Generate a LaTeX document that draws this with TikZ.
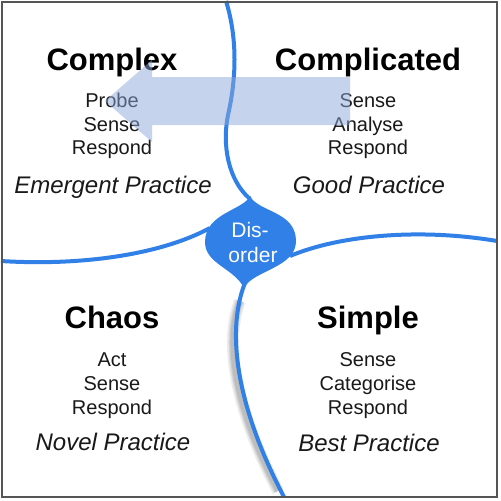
\documentclass[tikz,border=0pt]{standalone}
\usepackage{fontspec}
\setmainfont{Liberation Sans}
\definecolor{cyblue}{RGB}{48,128,232}
\definecolor{arrowblue}{RGB}{140,168,218}
\definecolor{framegray}{RGB}{85,85,85}
\begin{document}
\begin{tikzpicture}[x=1pt,y=-1pt,
  heading/.style={anchor=base,font=\fontsize{31}{36}\selectfont\bfseries,text=black,inner sep=0pt},
  sub/.style={anchor=base,font=\fontsize{20}{24}\selectfont,text=black!90,inner sep=0pt},
  practice/.style={anchor=base,font=\fontsize{24}{28}\selectfont\itshape,text=black!90,inner sep=0pt},
  dis/.style={anchor=base,font=\fontsize{21}{24}\selectfont,text=white,inner sep=0pt},
  boundary/.style={draw=cyblue,line width=4pt},
  shadowline/.style={draw=black,line width=#1,opacity=0.07}
]
\useasboundingbox (0,0) rectangle (501,501);
\fill[white] (0,0) rectangle (501,501);

% shadow of bottom boundary
\begin{scope}[shift={(-4,1)}]
  \foreach \w in {12,9,7,5}{
    \draw[shadowline=\w pt] (244,300) .. controls (232,330) and (230,390) .. (282,490);
  }
\end{scope}

% boundaries
\draw[boundary] (226,1) .. controls (238,40) and (236,80) .. (228,115) .. controls (222,145) and (228,180) .. (250,199);
\draw[boundary] (1,261) .. controls (80,266) and (160,255) .. (210,228);
\draw[boundary] (290,256) .. controls (340,235) and (420,228) .. (497,241);
\draw[boundary] (245,283) .. controls (230,320) and (228,390) .. (284,497);

% disorder blob
\fill[cyblue] (250,196) .. controls (244,210) and (205,213) .. (205,242)
  .. controls (205,264) and (234,268) .. (244,288)
  .. controls (253,270) and (297,268) .. (296,240)
  .. controls (295,211) and (258,212) .. (250,196) -- cycle;
\node[dis] (dis1) at (250,237) {Dis-};
\node[dis] (dis2) at (253,262) {order};

% texts
\node[heading] (complex) at (112,70.5) {Complex};
\node[sub] (c1) at (112,107.5) {Probe};
\node[sub] (c2) at (112,131) {Sense};
\node[sub] (c3) at (112,154.5) {Respond};
\node[practice] (cp) at (113,193.5) {Emergent Practice};

\node[heading] (complicated) at (368,70.5) {Complicated};
\node[sub] (d1) at (368,107.5) {Sense};
\node[sub] (d2) at (368,131) {Analyse};
\node[sub] (d3) at (368,154.5) {Respond};
\node[practice] (dp) at (369,193) {Good Practice};

\node[heading] (chaos) at (112,328) {Chaos};
\node[sub] (h1) at (112,366) {Act};
\node[sub] (h2) at (112,390) {Sense};
\node[sub] (h3) at (112,414) {Respond};
\node[practice] (hp) at (113,450.5) {Novel Practice};

\node[heading] (simple) at (368,328) {Simple};
\node[sub] (s1) at (368,366) {Sense};
\node[sub] (s2) at (368,390) {Categorise};
\node[sub] (s3) at (368,414) {Respond};
\node[practice] (sp) at (369,451) {Best Practice};

% translucent arrow
\fill[arrowblue,opacity=0.5] (350,77) -- (152,77) -- (152,60) -- (105,101) -- (152,142) -- (152,125) -- (350,125) -- cycle;

% frame
\draw[framegray,line width=2pt] (2,2) rectangle (497,497);
\end{tikzpicture}
\end{document}
